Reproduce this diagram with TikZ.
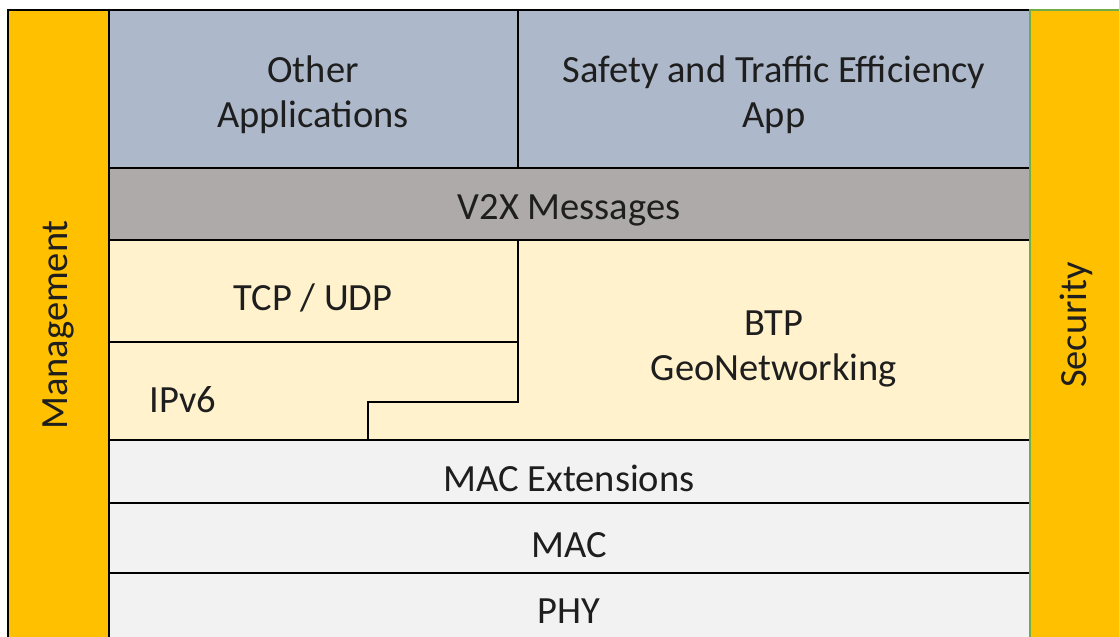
\documentclass[tikz,border=0pt]{standalone}
\usepackage{fontspec}
\setmainfont{Carlito}
\definecolor{mgold}{HTML}{FFC000}
\definecolor{appblue}{HTML}{ADB9CA}
\definecolor{vgray}{HTML}{AEAAAA}
\definecolor{cream}{HTML}{FFF2CC}
\definecolor{lgray}{HTML}{F2F2F2}
\definecolor{secgreen}{HTML}{70AD47}
\definecolor{txt}{HTML}{1E1E1E}
\tikzset{
  lbl/.style={text=txt, font=\fontsize{38.5}{45}\selectfont, align=center, inner sep=0pt},
  sep/.style={draw=black, line width=2.8pt},
}
\begin{document}
\begin{tikzpicture}[x=1pt,y=-1pt]
\useasboundingbox (0,0) rectangle (1119,637);
% fills
\fill[mgold] (8,10) rectangle (109,645);
\fill[mgold] (1030,10) rectangle (1125,645);
\fill[appblue] (109,10) rectangle (1030,168);
\fill[vgray] (109,168) rectangle (1030,240);
\fill[cream] (109,240) rectangle (1030,440);
\fill[lgray] (109,440) rectangle (1030,645);
% lines
\draw[sep] (8,645) -- (8,10) -- (1030,10);
\draw[sep] (109,10) -- (109,645);
\draw[sep] (518,10) -- (518,168);
\draw[sep] (109,168) -- (1030,168);
\draw[sep] (109,240) -- (1030,240);
\draw[sep] (518,240) -- (518,402) -- (368,402) -- (368,440);
\draw[sep] (109,342) -- (518,342);
\draw[sep] (109,440) -- (1030,440);
\draw[sep] (109,503) -- (1030,503);
\draw[sep] (109,573) -- (1030,573);
\draw[secgreen, line width=1.8pt] (1030,645) -- (1030,10) -- (1125,10);
% labels
\node[lbl] (other) at (313,95) {Other\\Applications};
\node[lbl] (safety) at (774,95) {Safety and Traffic Efficiency\\App};
\node[lbl] (v2x) at (569,210) {V2X Messages};
\node[lbl] (tcp) at (313,298) {TCP / UDP};
\node[lbl] (ipv6) at (183,400) {IPv6};
\node[lbl] (btp) at (774,349) {BTP\\GeoNetworking};
\node[lbl] (macext) at (569,478) {MAC Extensions};
\node[lbl] (mac) at (569,545) {MAC};
\node[lbl] (phy) at (569,611) {PHY};
\node[lbl, rotate=90] (mgmt) at (58,325) {Management};
\node[lbl, rotate=90] (sec) at (1076,325) {Security};
\end{tikzpicture}
\end{document}
